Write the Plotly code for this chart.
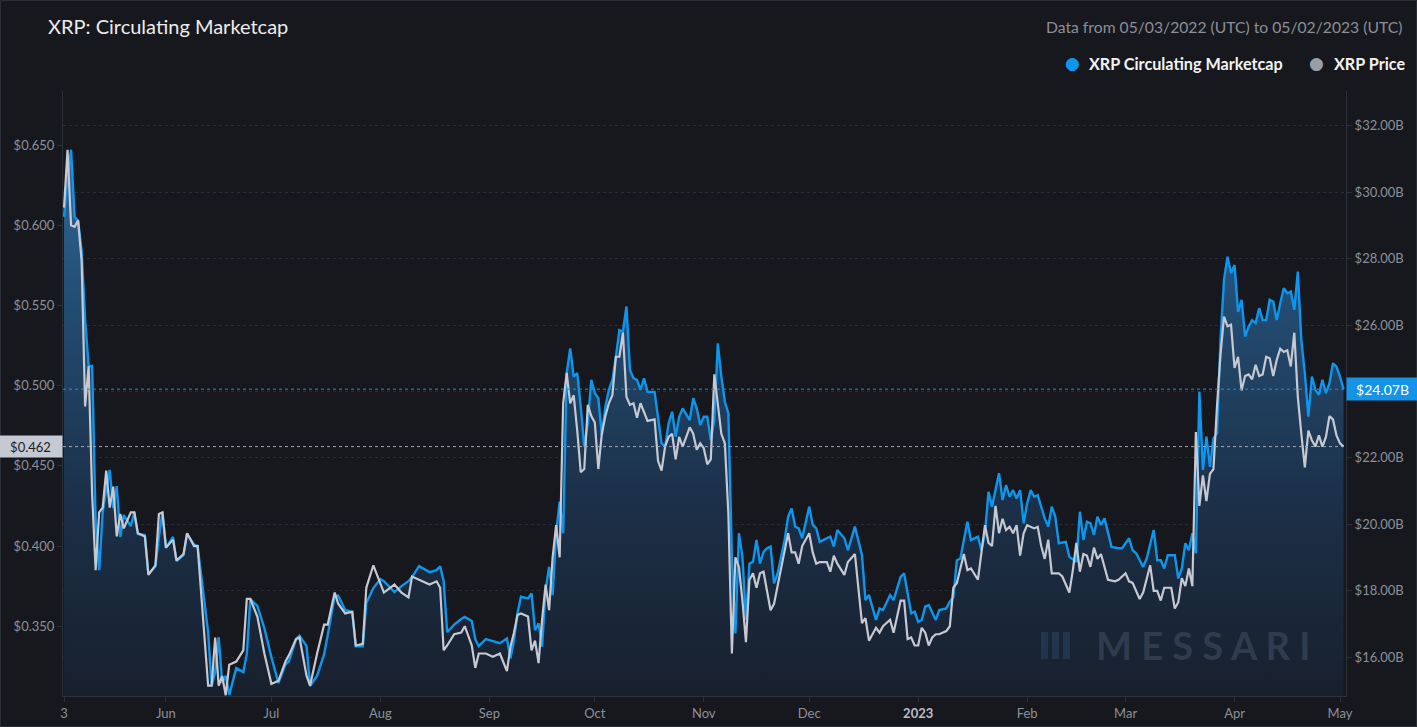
import plotly.graph_objects as go
import pandas as pd

START = pd.Timestamp("2022-05-03")

# XRP price (USD) - day offset from 2022-05-03
price_day = [0,1,2,3,4,5,6,7,8,9,10,11,12,13,14,15,16,17,19,20,21,23,24,26,27,28,29,31,32,34,35,37,38,
             41,42,43,44,45,46,47,49,51,52,53,55,57,59,61,63,64,66,67,69,70,72,74,75,77,78,80,82,83,85,86,88,
             90,91,94,96,98,99,101,104,106,107,108,109,111,113,114,116,117,118,120,122,124,126,127,128,129,130,
             132,133,134,135,136,137,138,139,140,141,142,143,144,145,146,147,148,149,150,151,152,153,154,155,156,
             157,158,159,160,161,162,163,164,165,166,168,169,170,171,172,173,174,175,176,178,179,180,181,182,183,
             184,185,186,187,188,189,190,191,192,193,194,195,196,197,198,199,201,202,203,205,206,207,208,209,210,
             212,213,214,215,217,218,219,220,222,223,225,227,228,229,231,232,233,235,236,238,239,240,241,242,243,
             244,245,246,247,248,249,251,252,253,254,256,257,258,260,261,262,263,264,265,266,267,268,269,270,271,
             272,273,274,276,277,278,279,280,281,283,284,286,287,288,289,290,291,292,293,294,295,297,299,300,302,
             303,304,306,307,309,310,311,312,313,315,316,317,318,319,320,321,322,323,324,325,326,327,328,329,330,
             331,332,333,334,335,336,337,338,339,340,341,342,343,344,345,346,347,348,349,350,351,352,353,354,355,
             356,357,358,359,360,361,362,363,364]
price_usd = [0.611,0.647,0.600,0.599,0.603,0.578,0.487,0.512,0.432,0.385,0.421,0.424,0.447,0.424,0.437,0.406,
             0.420,0.411,0.421,0.421,0.408,0.406,0.382,0.388,0.420,0.421,0.399,0.404,0.391,0.395,0.408,0.400,0.400,
             0.313,0.313,0.343,0.313,0.319,0.307,0.326,0.328,0.335,0.367,0.367,0.356,0.333,0.314,0.316,0.328,0.332,
             0.342,0.343,0.319,0.313,0.333,0.351,0.351,0.371,0.364,0.358,0.359,0.338,0.339,0.374,0.388,
             0.376,0.371,0.376,0.371,0.368,0.381,0.379,0.376,0.378,0.374,0.335,0.338,0.345,0.346,0.350,0.338,0.324,
             0.333,0.333,0.331,0.333,0.322,0.337,0.346,0.357,0.358,
             0.356,0.335,0.341,0.327,0.354,0.376,0.360,0.393,0.413,0.393,0.489,0.508,0.489,0.494,0.472,0.446,0.448,
             0.488,0.481,0.477,0.448,0.470,0.481,0.489,0.494,
             0.518,0.518,0.533,0.493,0.488,0.489,0.480,0.489,0.483,0.478,0.479,0.453,0.447,0.462,0.468,0.470,0.454,
             0.468,0.462,0.474,0.470,0.460,0.464,0.461,0.451,
             0.454,0.507,0.487,0.470,0.464,0.420,0.333,0.393,0.387,0.366,0.340,0.379,0.383,0.374,0.383,0.384,0.360,
             0.364,0.375,0.398,0.408,0.396,0.396,0.389,0.400,
             0.408,0.396,0.389,0.390,0.390,0.384,0.394,0.389,0.382,0.390,0.395,0.352,0.355,0.341,0.349,0.346,0.350,
             0.354,0.346,0.366,0.366,0.342,0.343,0.338,0.338,
             0.349,0.346,0.338,0.343,0.345,0.345,0.347,0.350,0.374,0.377,0.395,0.385,0.386,0.379,0.395,0.413,0.402,
             0.400,0.425,0.408,0.417,0.410,0.412,0.408,0.413,
             0.394,0.408,0.413,0.411,0.412,0.400,0.392,0.404,0.383,0.383,0.381,0.371,0.385,0.402,0.384,0.395,0.394,
             0.387,0.399,0.392,0.395,0.379,0.378,0.379,0.383,
             0.378,0.377,0.367,0.371,0.388,0.372,0.372,0.366,0.374,0.374,0.361,0.365,0.380,0.375,0.386,0.375,0.471,
             0.425,0.444,0.428,0.445,0.448,0.487,0.519,0.543,
             0.537,0.538,0.511,0.518,0.497,0.506,0.507,0.504,0.513,0.506,0.507,0.518,0.517,0.506,0.516,0.523,0.521,
             0.522,0.512,0.533,0.493,0.470,0.449,0.472,0.466,
             0.462,0.469,0.462,0.468,0.481,0.479,0.469,0.464,0.462]

# XRP circulating marketcap (USD billions) - day offset from 2022-05-03
mcap_day = [0,1,2,3,4,5,6,7,8,9,10,11,12,13,14,15,16,17,19,20,21,23,24,26,27,28,29,31,32,34,35,37,38,
            41,42,43,44,45,46,47,49,51,52,53,55,57,59,61,63,64,66,67,69,70,72,74,75,77,78,80,82,83,85,86,88,
            90,91,94,96,98,99,101,104,106,107,108,109,111,113,114,116,117,118,120,122,124,126,127,128,129,130,
            132,133,134,135,136,137,138,139,140,141,142,143,144,145,146,147,148,149,150,151,152,153,154,155,156,
            157,158,159,160,161,162,163,164,165,166,168,169,170,171,172,173,174,175,176,178,179,180,181,182,183,
            184,185,186,187,188,189,190,191,192,193,194,195,196,197,198,199,200,201,202,203,205,206,207,208,209,
            210,212,213,214,215,217,218,219,220,222,223,225,227,228,229,231,232,233,235,236,238,239,240,241,242,
            243,244,245,246,247,248,249,251,252,253,254,255,257,258,260,261,262,263,264,265,266,267,268,269,270,
            271,272,273,274,275,276,277,279,280,281,282,283,285,286,288,289,290,291,292,293,294,295,296,298,300,
            301,303,304,305,307,308,310,311,312,313,314,316,317,318,319,320,321,322,323,324,325,326,327,328,329,
            330,331,332,333,334,335,336,337,338,339,340,341,342,343,344,345,346,347,348,349,350,351,352,353,354,
            355,356,357,358,359,360,361,362,363,364]
mcap_bn = [29.26,30.46,31.28,29.26,29.14,28.26,26.16,24.77,24.77,20.04,18.62,20.37,21.03,21.64,20.49,21.15,
           19.62,20.28,19.95,20.37,19.71,19.68,18.50,18.74,19.62,20.37,19.29,19.62,18.89,19.07,19.71,19.39,19.35,
           16.75,15.13,15.55,16.60,15.22,15.44,14.86,15.67,15.55,16.09,17.75,17.54,16.87,16.00,15.22,15.78,15.88,
           16.54,16.65,16.33,15.13,15.44,16.09,16.65,17.85,17.85,17.42,17.36,16.33,16.33,17.63,18.08,
           18.35,18.29,17.96,18.14,18.29,18.41,18.74,18.56,18.62,18.74,18.29,16.75,16.98,17.15,17.21,17.09,16.54,
           16.33,16.54,16.48,16.42,16.56,15.96,16.51,17.32,17.82,
           17.77,17.92,16.81,17.02,16.31,18.02,18.72,17.87,19.73,20.68,19.73,24.55,25.30,24.45,24.55,23.54,22.34,
           23.04,24.35,23.95,23.80,22.69,23.54,24.05,24.35,
           25.05,25.85,25.80,26.56,24.65,24.40,24.35,24.05,24.40,23.99,23.99,23.14,22.44,22.34,23.04,23.39,22.64,
           23.24,23.49,23.14,23.80,23.49,22.99,23.24,23.24,
           22.54,23.14,25.45,24.45,23.69,23.34,19.02,16.71,19.73,19.02,17.12,18.82,18.87,19.53,18.82,19.17,19.28,
           19.33,18.22,18.52,19.53,20.23,20.48,19.93,19.88,
           19.58,20.53,19.98,19.88,19.47,19.58,19.63,19.33,19.83,19.58,19.22,19.93,19.07,17.72,17.87,17.12,17.47,
           17.42,17.87,17.72,18.42,18.52,17.87,17.32,17.37,
           17.06,17.12,17.52,17.57,17.32,17.12,17.42,17.47,17.67,17.80,18.92,18.97,20.08,19.53,19.63,19.22,19.73,
           20.98,20.53,21.03,21.54,20.73,21.18,20.83,21.03,
           20.78,21.03,20.03,20.63,21.03,20.83,20.88,20.18,19.93,20.53,20.23,19.43,19.47,19.02,18.87,20.38,19.53,
           20.08,20.03,19.68,20.23,19.98,20.18,19.32,19.28,
           19.28,19.58,19.22,19.13,18.72,18.97,19.83,18.92,18.92,18.67,19.07,19.07,18.37,18.67,19.43,19.22,19.73,
           19.13,23.99,21.64,22.64,21.73,22.59,22.74,25.55,
           27.36,28.06,27.56,27.81,26.40,26.76,25.65,25.95,26.15,26.06,26.51,26.15,26.15,26.76,26.71,26.15,26.66,
           27.11,26.96,27.01,26.46,27.61,25.55,24.55,23.24,
           24.45,24.05,23.90,24.35,23.95,24.25,24.85,24.75,24.45,24.07]

tick_dates = ["2022-05-03", "2022-06-01", "2022-07-01", "2022-08-01", "2022-09-01", "2022-10-01",
              "2022-11-01", "2022-12-01", "2023-01-01", "2023-02-01", "2023-03-01", "2023-04-01", "2023-05-01"]
tick_text = ["3", "Jun", "Jul", "Aug", "Sep", "Oct", "Nov", "Dec",
             "<b><span style='color:#b9bdc6'>2023</span></b>", "Feb", "Mar", "Apr", "May"]
price_ticks = [0.35, 0.40, 0.45, 0.50, 0.55, 0.60, 0.65]
mcap_ticks = [16, 18, 20, 22, 24, 26, 28, 30, 32]

price_dates = START + pd.to_timedelta(price_day, unit="D")
mcap_dates = START + pd.to_timedelta(mcap_day, unit="D")

last_price = price_usd[-1]
last_mcap = mcap_bn[-1]

price_ticktext = ["$%.3f" % v for v in price_ticks]
# the tick nearest to the current-value badge is hidden under it in the original
mcap_ticktext = ["" if abs(v - last_mcap) < 0.5 else "$%.2fB" % v for v in mcap_ticks]

BG = "#17181d"
BLUE = "#0d96ed"
GRAY = "#c6c9d2"
TICK = "#8b909a"
AXIS = "#2c3039"
FONT = "Lato"

W, H = 1417, 727
L, R, T, B = 63, 71, 91, 31


def px_x(px):
    return (px - L) / (W - L - R)


def px_y(py):
    return (H - B - py) / (H - T - B)


fig = go.Figure()
fig.add_trace(go.Scatter(
    x=mcap_dates, y=mcap_bn, name="XRP Circulating Marketcap", yaxis="y",
    mode="lines", line=dict(color=BLUE, width=2.4), fill="tozeroy",
    fillgradient=dict(type="vertical", start=14.8, stop=31.5,
                      colorscale=[[0, "rgba(24,32,46,0.92)"], [0.35, "rgba(28,50,76,0.92)"],
                                  [0.7, "rgba(36,80,120,0.92)"], [1, "rgba(48,112,168,0.92)"]]),
    showlegend=False, hoverinfo="skip"))
fig.add_trace(go.Scatter(
    x=price_dates, y=price_usd, name="XRP Price", yaxis="y2",
    mode="lines", line=dict(color=GRAY, width=2.2), showlegend=False, hoverinfo="skip"))

x_start = START - pd.Timedelta(hours=7)
x_end = START + pd.Timedelta(days=364, hours=17)

fig.update_layout(
    width=W, height=H,
    paper_bgcolor=BG, plot_bgcolor=BG,
    margin=dict(l=L, r=R, t=T, b=B, autoexpand=False),
    font=dict(family=FONT, color=TICK, size=13),
    title=dict(text="XRP: Circulating Marketcap", x=48 / W, xanchor="left", y=1 - 27 / H, yanchor="middle",
               xref="container", yref="container", font=dict(size=20, color="#ececec", family=FONT)),
    xaxis=dict(type="date", range=[x_start, x_end], tickvals=tick_dates, ticktext=tick_text,
               showgrid=False, showline=True, linecolor=AXIS, linewidth=1, ticks="outside", ticklen=5,
               tickcolor=AXIS, tickfont=dict(size=13, color=TICK), zeroline=False),
    yaxis=dict(side="right", range=[14.83, 33.05], tickvals=mcap_ticks, ticktext=mcap_ticktext,
               showgrid=True, gridcolor="#2a2d35", griddash="dot", gridwidth=1,
               showline=True, linecolor=AXIS, ticks="outside", ticklen=5, tickcolor=AXIS,
               tickfont=dict(size=13, color=TICK), zeroline=False),
    yaxis2=dict(overlaying="y", side="left", range=[0.3065, 0.6837], tickvals=price_ticks,
                ticktext=price_ticktext, showgrid=False, showline=True, linecolor=AXIS, ticks="outside",
                ticklen=5, tickcolor=AXIS, tickfont=dict(size=13, color=TICK), zeroline=False),
)

shapes = [
    dict(type="line", xref="paper", x0=0, x1=1, yref="y2", y0=last_price, y1=last_price,
         line=dict(color="#a3a7b1", width=1, dash="dot")),
    dict(type="line", xref="paper", x0=0, x1=1, yref="y", y0=last_mcap, y1=last_mcap,
         line=dict(color="#1593e6", width=1, dash="dot")),
    dict(type="rect", xref="paper", yref="paper", x0=px_x(0.5), x1=px_x(W - 0.5), y0=px_y(H - 0.5),
         y1=px_y(0.5), line=dict(color="#2b2e36", width=1), fillcolor="rgba(0,0,0,0)"),
]
# watermark logo bars
for a, b in [(1041, 1050), (1052, 1061), (1063, 1072)]:
    shapes.append(dict(type="rect", xref="paper", yref="paper", x0=px_x(a), x1=px_x(b - 2),
                       y0=px_y(659), y1=px_y(632), line=dict(width=0),
                       fillcolor="rgba(50,85,125,0.35)"))
fig.update_layout(shapes=shapes)

ann = [
    dict(text="Data from 05/03/2022 (UTC) to 05/02/2023 (UTC)", xref="paper", yref="paper",
         x=px_x(1404), y=px_y(27), xanchor="right", yanchor="middle", showarrow=False,
         font=dict(size=15.7, color="#8a8f99", family=FONT)),
    dict(text="●", xref="paper", yref="paper", x=px_x(1072), y=px_y(63), xanchor="center", yanchor="middle",
         showarrow=False, font=dict(size=17, color=BLUE, family="DejaVu Sans")),
    dict(text="<b>XRP Circulating Marketcap</b>", xref="paper", yref="paper", x=px_x(1087), y=px_y(63),
         xanchor="left", yanchor="middle", showarrow=False, font=dict(size=16.2, color="#f2f2f2", family=FONT)),
    dict(text="●", xref="paper", yref="paper", x=px_x(1316), y=px_y(63), xanchor="center", yanchor="middle",
         showarrow=False, font=dict(size=17, color="#9a9eab", family="DejaVu Sans")),
    dict(text="<b>XRP Price</b>", xref="paper", yref="paper", x=px_x(1332), y=px_y(63),
         xanchor="left", yanchor="middle", showarrow=False, font=dict(size=16.2, color="#f2f2f2", family=FONT)),
    dict(text="$%.3f" % last_price, xref="paper", yref="y2", x=0, y=last_price, xanchor="right",
         yanchor="middle", showarrow=False, bgcolor="#c5c9d3", width=59, height=17, borderpad=2,
         align="center", font=dict(size=13, color="#1b1e24", family=FONT)),
    dict(text="$%.2fB" % last_mcap, xref="paper", yref="y", x=1, y=last_mcap, xanchor="left",
         yanchor="middle", showarrow=False, bgcolor="#1593e6", width=67, height=18, borderpad=2,
         align="center", font=dict(size=14, color="#ffffff", family=FONT)),
    dict(text="<b>M E S S A R I</b>", xref="paper", yref="paper", x=px_x(1203), y=px_y(645),
         xanchor="center", yanchor="middle", showarrow=False,
         font=dict(size=38, color="rgba(110,122,145,0.30)", family=FONT)),
]
fig.update_layout(annotations=ann)

fig.write_html("out.html", include_plotlyjs=True, config={"displayModeBar": False},
               post_script="document.body.style.margin='0';document.body.style.overflow='hidden';")
